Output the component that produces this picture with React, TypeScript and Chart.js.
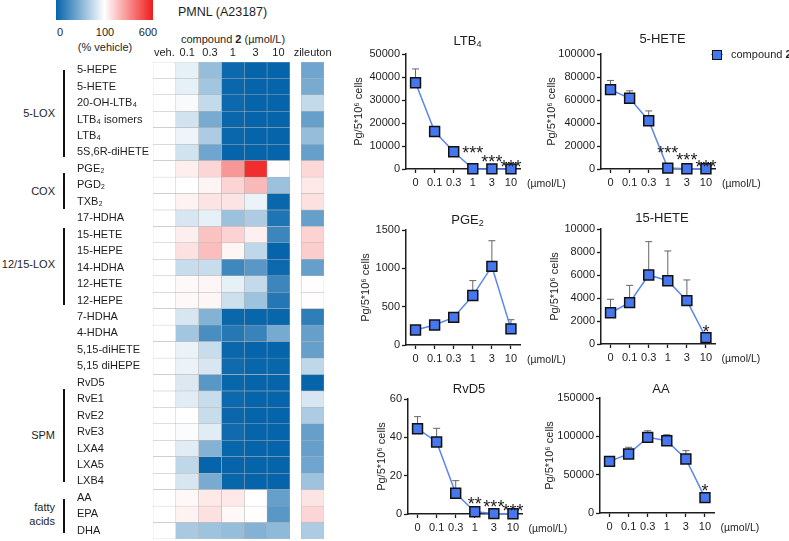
import React, { useEffect, useRef } from "react";
import { Chart, registerables } from "chart.js";

Chart.register(...registerables);

const FONT = '"Liberation Sans", Arial, Helvetica, sans-serif';
const INK = "#1e1e1e";
const LINE_COLOR = "#5b86f0";
const FILL_COLOR = "#4677f0";

// ---------------- heatmap data (% vehicle) ----------------
const rowLabels = [
  "5-HEPE", "5-HETE", "20-OH-LTB₄", "LTB₄ isomers", "LTB₄", "5S,6R-diHETE",
  "PGE₂", "PGD₂", "TXB₂",
  "17-HDHA", "15-HETE", "15-HEPE", "14-HDHA", "12-HETE", "12-HEPE",
  "7-HDHA", "4-HDHA", "5,15-diHETE", "5,15 diHEPE",
  "RvD5", "RvE1", "RvE2", "RvE3", "LXA4", "LXA5", "LXB4",
  "AA", "EPA", "DHA",
];
const colLabels = ["veh.", "0.1", "0.3", "1", "3", "10", "zileuton"];

const vehVals = [100, 100, 100, 100, 100, 100, 100, 100, 100, 100, 100, 100, 100, 100, 100, 100, 100, 100, 100, 100, 100, 100, 100, 100, 100, 100, 100, 100, 100];
const c01Vals = [90, 90, 97, 82, 93, 82, 138, 100, 128, 84, 135, 165, 78, 115, 115, 84, 63, 92, 92, 86, 88, 100, 98, 88, 74, 84, 115, 128, 65];
const c03Vals = [58, 63, 76, 46, 67, 42, 190, 125, 160, 90, 235, 245, 78, 120, 122, 50, 27, 78, 84, 33, 78, 78, 88, 50, 0, 46, 150, 165, 61];
const c1Vals = [3, 2, 3, 2, 2, 0, 330, 195, 160, 60, 200, 122, 23, 90, 80, 2, 13, 2, 4, 1, 3, 2, 4, 1, 0, 1, 150, 115, 58];
const c3Vals = [0, 0, 0, 0, 0, 0, 560, 255, 92, 67, 133, 74, 33, 76, 61, 1, 20, 0, 1, 0, 0, 0, 0, 0, 0, 0, 100, 105, 50];
const c10Vals = [0, 0, 0, 0, 0, 0, 105, 60, 2, 10, 22, 0, 3, 22, 12, 1, 45, 0, 1, 0, 0, 0, 0, 0, 0, 0, 38, 33, 55];
const zileutonVals = [42, 46, 76, 38, 58, 38, 185, 150, 165, 38, 200, 210, 38, 105, 105, 17, 38, 38, 74, 0, 84, 67, 38, 38, 42, 61, 160, 190, 67];

const heatColumns = [vehVals, c01Vals, c03Vals, c1Vals, c3Vals, c10Vals, zileutonVals];
const heatColStart = [0, 1, 2, 3, 4, 5, 6.5];

// ---------------- line chart data ----------------
const doseLabels = ["0", "0.1", "0.3", "1", "3", "10"];

const ltb4Mean = [37500, 16300, 7500, 100, 50, 50];
const ltb4Err = [6000, 600, 500, 0, 0, 0];
const ltb4Sig = ["", "", "", "***", "***", "***"];
const ltb4SigY = [null, null, null, 8800, 5000, 3000];

const hete5Mean = [69000, 61500, 42000, 800, 200, 200];
const hete5Err = [8000, 6500, 8500, 0, 0, 0];
const hete5Sig = ["", "", "", "***", "***", "***"];
const hete5SigY = [null, null, null, 17400, 11500, 5500];

const pge2Mean = [195, 260, 360, 645, 1025, 210];
const pge2Err = [15, 20, 25, 195, 335, 120];
const pge2Sig = ["", "", "", "", "", ""];
const pge2SigY = [null, null, null, null, null, null];

const hete15Mean = [2720, 3600, 6000, 5500, 3770, 550];
const hete15Err = [1170, 1500, 2900, 2590, 1800, 0];
const hete15Sig = ["", "", "", "", "", "*"];
const hete15SigY = [null, null, null, null, null, 1400];

const rvd5Mean = [44.5, 37.6, 10.8, 1.2, 0.2, 0.1];
const rvd5Err = [6.3, 7.1, 6.6, 0, 0, 0];
const rvd5Sig = ["", "", "", "**", "***", "***"];
const rvd5SigY = [null, null, null, 7.7, 5.9, 3.8];

const aaMean = [67400, 77000, 98700, 94300, 70400, 20000];
const aaErr = [6000, 8700, 8600, 7800, 10900, 6500];
const aaSig = ["", "", "", "", "", "*"];
const aaSigY = [null, null, null, null, null, 35000];

// ---------------- helpers ----------------
const BLUE = [6, 100, 170];
const WHITE = [255, 255, 255];
const RED = [240, 28, 28];
function mix(a: number[], b: number[], t: number) {
  const c = a.map((v, i) => Math.round(v + (b[i] - v) * t));
  return `rgb(${c[0]},${c[1]},${c[2]})`;
}
function heatColor(v: number) {
  if (v <= 100) return mix(BLUE, WHITE, Math.max(0, v) / 100);
  return mix(WHITE, RED, Math.min(1, (v - 100) / 500));
}

function T(props: { x: number; y: number; align?: string; size?: number; children: any; weight?: number; lh?: number }) {
  const { x, y, align = "center", size = 11, children, weight = 400, lh = 1 } = props;
  const tx = align === "center" ? "-50%" : align === "right" ? "-100%" : "0";
  return (
    <div
      style={{
        position: "absolute", left: x, top: y, transform: `translate(${tx},-50%)`,
        fontSize: size, fontFamily: FONT, color: INK, whiteSpace: "nowrap",
        lineHeight: lh, fontWeight: weight, textAlign: align as any,
      }}
    >
      {children}
    </div>
  );
}

const Sub = ({ children }: { children: any }) => (
  <sub style={{ fontSize: "0.7em", verticalAlign: "-0.25em", lineHeight: 0 }}>{children}</sub>
);

// ---------------- heatmap ----------------
function Heatmap() {
  const ref = useRef<HTMLCanvasElement>(null);
  const left = 70, top = 40, W = 266, H = 507;
  useEffect(() => {
    const chart = new Chart(ref.current!, {
      type: "bar",
      data: {
        labels: rowLabels,
        datasets: heatColumns.map((vals, c) => ({
          data: vals.map(() => [heatColStart[c], heatColStart[c] + 1]),
          backgroundColor: vals.map(heatColor),
          borderColor: "#b4b4b4",
          borderWidth: 0.5,
          borderSkipped: false,
          categoryPercentage: 1,
          barPercentage: 1,
          grouped: false,
        })) as any,
      },
      options: {
        indexAxis: "y",
        responsive: false,
        animation: false,
        devicePixelRatio: 1,
        layout: { padding: { left: 7, top: 0, right: 12, bottom: 8 } },
        plugins: { legend: { display: false }, tooltip: { enabled: false } },
        scales: {
          x: {
            type: "linear",
            position: "top",
            min: 0,
            max: 7.5,
            grid: { display: false, drawTicks: false },
            border: { display: false },
            ticks: {
              autoSkip: false, maxRotation: 0, minRotation: 0, padding: 2,
              color: INK, font: { family: FONT, size: 11 },
              callback: (_v: any, i: number) => colLabels[i],
            },
            afterBuildTicks: (s: any) => {
              s.ticks = heatColStart.map((v) => ({ value: v + 0.5 }));
            },
            afterFit: (s: any) => { s.height = 22; },
          },
          y: {
            type: "category",
            grid: { display: false, drawTicks: false },
            border: { display: false },
            ticks: {
              autoSkip: false, crossAlign: "far", padding: 0,
              color: INK, font: { family: FONT, size: 11 },
            },
            afterFit: (s: any) => { s.width = 76; },
          },
        },
      } as any,
    });
    return () => chart.destroy();
  }, []);
  return (
    <canvas ref={ref} width={W} height={H}
      style={{ position: "absolute", left, top, width: W, height: H }} />
  );
}

// ---------------- line panels ----------------
type Panel = {
  title: any; mean: number[]; err: number[]; sig: string[]; sigY: (number | null)[];
  yMax: number; yStep: number; plotLeft: number; plotTop: number; titlePad: number; titleY: number;
};

const PLOT = 115;
const YW = 60, PT = 12, XH = 22, PR = 8;

function LinePanel({ p }: { p: Panel }) {
  const ref = useRef<HTMLCanvasElement>(null);
  const W = YW + PLOT + PR, H = PT + PLOT + XH;
  useEffect(() => {
    const errPlugin = {
      id: "errBars",
      beforeDatasetsDraw(chart: any) {
        const { ctx, scales } = chart;
        const xs = scales.x, ys = scales.y;
        ctx.save();
        ctx.strokeStyle = "#666";
        ctx.lineWidth = 1;
        p.mean.forEach((m, i) => {
          const e = p.err[i];
          if (!e) return;
          const px = xs.getPixelForValue(i);
          const y0 = ys.getPixelForValue(m);
          const y1 = ys.getPixelForValue(m + e);
          ctx.beginPath();
          ctx.moveTo(px, y0);
          ctx.lineTo(px, y1);
          ctx.moveTo(px - 3.5, y1);
          ctx.lineTo(px + 3.5, y1);
          ctx.stroke();
        });
        ctx.restore();
      },
    };
    const starPlugin = {
      id: "stars",
      afterDatasetsDraw(chart: any) {
        const { ctx, scales } = chart;
        ctx.save();
        ctx.fillStyle = INK;
        ctx.font = `18px ${FONT}`;
        ctx.textAlign = "center";
        ctx.textBaseline = "alphabetic";
        p.sig.forEach((s, i) => {
          const sy = p.sigY[i];
          if (!s || sy == null) return;
          const px = scales.x.getPixelForValue(i);
          const py = scales.y.getPixelForValue(sy);
          ctx.fillText(s, px, py + 10.4);
        });
        ctx.restore();
      },
    };
    const axisGrid = {
      display: true, drawOnChartArea: false, drawTicks: true,
      tickLength: 4, tickColor: INK, tickWidth: 1.3,
    };
    const axisBorder = { display: true, color: INK, width: 1.5 };
    const chart = new Chart(ref.current!, {
      type: "line",
      data: {
        labels: doseLabels,
        datasets: [{
          data: p.mean,
          borderColor: LINE_COLOR,
          borderWidth: 1.5,
          pointStyle: "rect",
          pointRadius: 7,
          pointHoverRadius: 7,
          pointBackgroundColor: FILL_COLOR,
          pointBorderColor: "#111",
          pointBorderWidth: 1.5,
          tension: 0,
          clip: false as any,
        }],
      },
      options: {
        responsive: false,
        animation: false,
        devicePixelRatio: 1,
        layout: { padding: { top: PT, right: PR, left: 0, bottom: 0 } },
        plugins: { legend: { display: false }, tooltip: { enabled: false } },
        scales: {
          x: {
            type: "category",
            offset: true,
            grid: axisGrid,
            border: axisBorder,
            ticks: { autoSkip: false, maxRotation: 0, padding: 3, color: INK, font: { family: FONT, size: 11 } },
            afterFit: (s: any) => { s.height = XH; },
          },
          y: {
            min: 0,
            max: p.yMax,
            grid: axisGrid,
            border: axisBorder,
            ticks: {
              stepSize: p.yStep, padding: 2, color: INK, font: { family: FONT, size: 11 },
              callback: (v: any) => String(v),
            },
            title: {
              display: true, text: "Pg/5*10⁶ cells", color: INK,
              font: { family: FONT, size: 11 }, padding: { top: p.titlePad, bottom: 0 },
            },
            afterFit: (s: any) => { s.width = YW; },
          },
        },
      } as any,
      plugins: [errPlugin, starPlugin],
    });
    return () => chart.destroy();
  }, []);
  return (
    <>
      <canvas ref={ref} width={W} height={H}
        style={{ position: "absolute", left: p.plotLeft - YW, top: p.plotTop - PT, width: W, height: H }} />
      <T x={p.plotLeft + PLOT / 2 + 4} y={p.titleY} size={13}>{p.title}</T>
      <T x={p.plotLeft + PLOT + 6} y={p.plotTop + PLOT + 14} align="left" size={10.5}>(µmol/L)</T>
    </>
  );
}

const panels: Panel[] = [
  { title: <>LTB<Sub>4</Sub></>, mean: ltb4Mean, err: ltb4Err, sig: ltb4Sig, sigY: ltb4SigY, yMax: 50000, yStep: 10000, plotLeft: 406, plotTop: 53.5, titlePad: 6.4, titleY: 40 },
  { title: "5-HETE", mean: hete5Mean, err: hete5Err, sig: hete5Sig, sigY: hete5SigY, yMax: 100000, yStep: 20000, plotLeft: 601, plotTop: 54, titlePad: 4.4, titleY: 38 },
  { title: <>PGE<Sub>2</Sub></>, mean: pge2Mean, err: pge2Err, sig: pge2Sig, sigY: pge2SigY, yMax: 1500, yStep: 500, plotLeft: 406, plotTop: 229.5, titlePad: 13.4, titleY: 219 },
  { title: "15-HETE", mean: hete15Mean, err: hete15Err, sig: hete15Sig, sigY: hete15SigY, yMax: 10000, yStep: 2000, plotLeft: 600.5, plotTop: 229, titlePad: 6.9, titleY: 217 },
  { title: "RvD5", mean: rvd5Mean, err: rvd5Err, sig: rvd5Sig, sigY: rvd5SigY, yMax: 60, yStep: 20, plotLeft: 407.5, plotTop: 399, titlePad: 26.9, titleY: 387.5 },
  { title: "AA", mean: aaMean, err: aaErr, sig: aaSig, sigY: aaSigY, yMax: 150000, yStep: 50000, plotLeft: 599.5, plotTop: 398, titlePad: 2.9, titleY: 387.5 },
];

const groups = [
  { name: ["5-LOX"], y: 114, y0: 70, y1: 157 },
  { name: ["COX"], y: 192, y0: 173, y1: 209 },
  { name: ["12/15-LOX"], y: 265, y0: 228, y1: 305 },
  { name: ["SPM"], y: 436, y0: 389, y1: 482 },
  { name: ["fatty", "acids"], y: 515, y0: 499, y1: 533 },
];

export default function App() {
  return (
    <div style={{ position: "absolute", left: 0, top: 0, width: 789, height: 541, overflow: "hidden", background: "#fff" }}>
      {/* colour bar */}
      <div style={{
        position: "absolute", left: 56, top: 0, width: 97, height: 20,
        background: `linear-gradient(to right, ${heatColor(0)} 0%, #ffffff 50%, ${heatColor(600)} 100%)`,
      }} />
      <T x={60} y={32}>0</T>
      <T x={105} y={32}>100</T>
      <T x={148} y={32}>600</T>
      <T x={105} y={47}>(% vehicle)</T>
      <T x={178} y={12} align="left" size={12.5}>PMNL (A23187)</T>
      <T x={233} y={39}>compound <b>2</b> (µmol/L)</T>

      {groups.map((g, i) => (
        <React.Fragment key={i}>
          <T x={55} y={g.y} align="right" lh={1.25}>
            {g.name.map((n, j) => <div key={j}>{n}</div>)}
          </T>
          <div style={{ position: "absolute", left: 63, top: g.y0, width: 1.5, height: g.y1 - g.y0, background: "#111" }} />
        </React.Fragment>
      ))}

      <Heatmap />

      {panels.map((p, i) => <LinePanel key={i} p={p} />)}

      {/* legend */}
      <div style={{ position: "absolute", left: 710.5, top: 53.5, width: 12, height: 1.5, background: LINE_COLOR }} />
      <div style={{ position: "absolute", left: 711.5, top: 49.5, width: 10, height: 10, boxSizing: "border-box", background: FILL_COLOR, border: "1.5px solid #111" }} />
      <T x={731} y={54} align="left">compound <b>2</b></T>
    </div>
  );
}
